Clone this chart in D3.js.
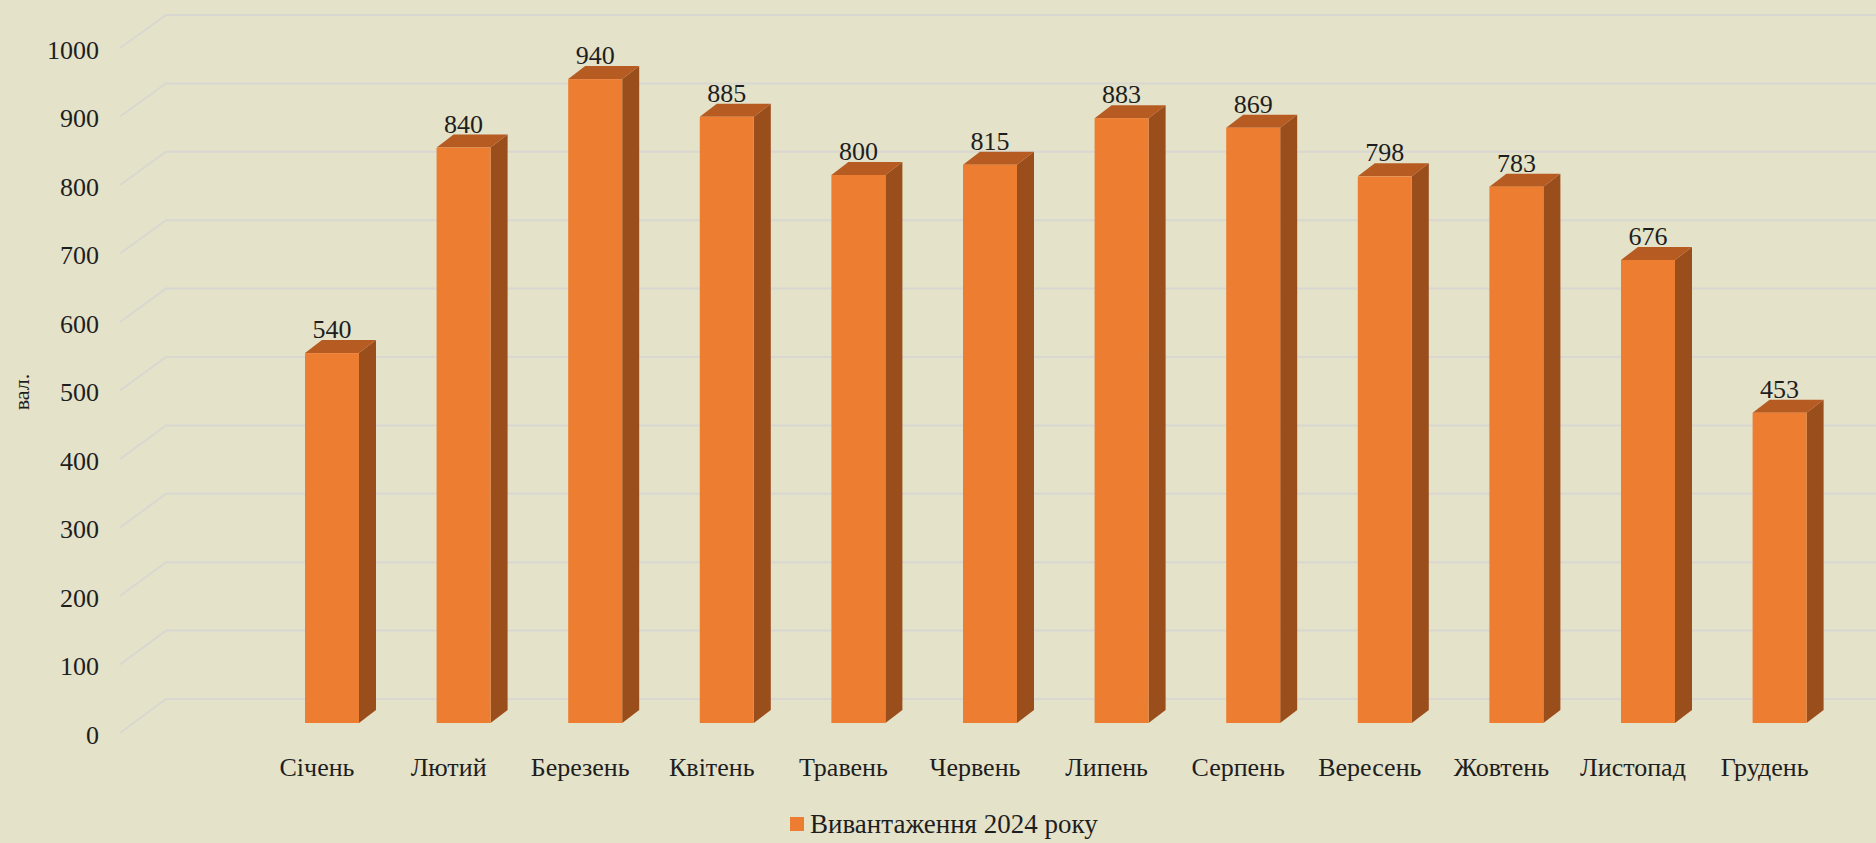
<!DOCTYPE html>
<html>
<head>
<meta charset="utf-8">
<script src="https://cdn.jsdelivr.net/npm/d3@7"></script>
<style>
  html, body { margin: 0; padding: 0; background: #e4e2c9; }
  svg { display: block; }
  text { font-family: "Liberation Serif", "Times New Roman", serif; fill: #1e1e1e; }
</style>
</head>
<body>
<svg id="chart" width="1876" height="843"></svg>
<script>
const categories = ["Січень", "Лютий", "Березень", "Квітень", "Травень", "Червень", "Липень", "Серпень", "Вересень", "Жовтень", "Листопад", "Грудень"];
const values = [540, 840, 940, 885, 800, 815, 883, 869, 798, 783, 676, 453];
const yTicks = [0, 100, 200, 300, 400, 500, 600, 700, 800, 900, 1000];
const seriesName = "Вивантаження 2024 року";
const axisTitle = "вал.";

const W = 1876, H = 843;
const svg = d3.select("#chart");
svg.append("rect").attr("width", W).attr("height", H).attr("fill", "#e4e2c9");

// scales
const x = d3.scaleBand().domain(categories).range([305, 1806.6]).paddingInner(0.5897).paddingOuter(0);
const yBar = d3.scaleLinear().domain([0, 1000]).range([723, 38]);
const yFront = d3.scaleLinear().domain([0, 1000]).range([733, 48]);
const yBack = d3.scaleLinear().domain([0, 1000]).range([699, 15]);
const depthX = 17, depthY = 13;
const frontX = 120, backX = 166;

// gridlines (3D wall style)
svg.append("g").selectAll("path").data(yTicks).join("path")
  .attr("d", t => `M${frontX},${yFront(t)} L${backX},${yBack(t)} L${W},${yBack(t)}`)
  .attr("fill", "none")
  .attr("stroke", "#d8d8d1")
  .attr("stroke-width", 2);

// y axis labels
const yAxis = d3.axisLeft(yFront).tickValues(yTicks).tickSize(0).tickPadding(21).tickFormat(d3.format("d"));
const gy = svg.append("g").attr("transform", `translate(${frontX},2)`).call(yAxis);
gy.select(".domain").remove();
gy.selectAll("text").style("font-family", '"Liberation Serif", "Times New Roman", serif').style("font-size", "26px").attr("fill", "#1e1e1e");

// axis title
svg.append("text")
  .attr("transform", "translate(29,392) rotate(-90)")
  .attr("text-anchor", "middle")
  .style("font-size", "22px")
  .text(axisTitle);

// bars
const bars = svg.append("g").selectAll("g").data(categories.map((c, i) => ({ c, v: values[i] }))).join("g");
const bw = x.bandwidth();
bars.append("path") // side
  .attr("d", d => {
    const x0 = x(d.c) + bw, yt = yBar(d.v), yb = yBar(0);
    return `M${x0},${yt} L${x0 + depthX},${yt - depthY} L${x0 + depthX},${yb - depthY} L${x0},${yb} Z`;
  })
  .attr("fill", "#9a4e1c");
bars.append("path") // top
  .attr("d", d => {
    const x0 = x(d.c), yt = yBar(d.v);
    return `M${x0},${yt} L${x0 + depthX},${yt - depthY} L${x0 + bw + depthX},${yt - depthY} L${x0 + bw},${yt} Z`;
  })
  .attr("fill", "#b65b21");
bars.append("rect") // front
  .attr("x", d => x(d.c))
  .attr("y", d => yBar(d.v))
  .attr("width", bw)
  .attr("height", d => yBar(0) - yBar(d.v))
  .attr("fill", "#ed7d31");

// value labels
bars.append("text")
  .attr("x", d => x(d.c) + bw / 2)
  .attr("y", d => yBar(d.v) - depthY - 2)
  .attr("text-anchor", "middle")
  .style("font-size", "26px")
  .text(d => d.v);

// category labels
svg.append("g").selectAll("text").data(categories).join("text")
  .attr("x", d => x(d) + bw / 2 - 15)
  .attr("y", 776)
  .attr("text-anchor", "middle")
  .style("font-size", "26px")
  .text(d => d);

// legend
const lg = svg.append("g").attr("transform", "translate(790,817)");
lg.append("rect").attr("width", 14).attr("height", 14).attr("fill", "#ed7d31");
lg.append("text").attr("x", 20).attr("y", 7).attr("dy", "0.35em").style("font-size", "27px").text(seriesName);
</script>
</body>
</html>
